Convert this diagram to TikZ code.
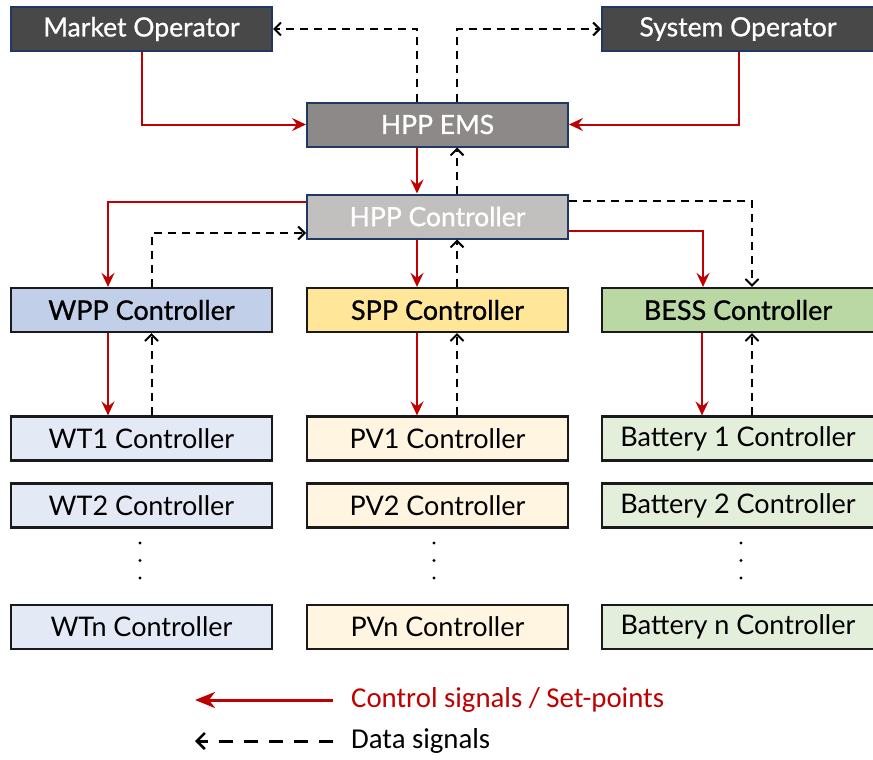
\documentclass[tikz,border=0pt]{standalone}
\usepackage{fontspec}
\setmainfont{Lato}
\newfontfamily\medfont[FakeBold=0.9]{Lato}
\newfontfamily\legendfont{Carlito}
\usetikzlibrary{arrows.meta}

\definecolor{opfill}{RGB}{72,72,72}
\definecolor{emsfill}{RGB}{141,137,136}
\definecolor{hppfill}{RGB}{194,192,191}
\definecolor{navyline}{RGB}{31,56,100}
\definecolor{wppfill}{RGB}{193,207,233}
\definecolor{sppfill}{RGB}{255,230,153}
\definecolor{bessfill}{RGB}{185,216,163}
\definecolor{wtfill}{RGB}{227,234,246}
\definecolor{pvfill}{RGB}{255,245,224}
\definecolor{batfill}{RGB}{227,239,219}
\definecolor{ctrlred}{RGB}{192,0,0}
\definecolor{boxline}{RGB}{26,26,26}

\tikzset{
  topbox/.style={draw=navyline, line width=2pt, minimum width=261pt, minimum height=44pt,
    inner sep=0pt, text=white, font=\medfont\fontsize{26.5}{28}\selectfont},
  plantbox/.style={draw=boxline, line width=2.2pt, minimum width=261pt, minimum height=44pt,
    inner sep=0pt, text=black, font=\medfont\fontsize{27}{29}\selectfont},
  unitbox/.style={plantbox, font=\fontsize{27}{29}\selectfont},
  wide/.style={minimum width=272pt},
  ctrl/.style={draw=ctrlred, line width=2pt,
    -{Stealth[length=14pt, width=13pt, inset=5pt]}},
  data/.style={draw=black, line width=2pt, dash pattern=on 8pt off 6pt,
    -{Straight Barb[length=6.5pt, width=13pt, line width=2pt]}},
  vdot/.style={circle, fill=black, inner sep=0pt, minimum size=3.4pt},
}

\begin{document}
\begin{tikzpicture}[x=1pt, y=-1pt]
\useasboundingbox (0,0) rectangle (873,760);

% operators and plant-level boxes
\node[topbox, fill=opfill] (mo) at (141.5,29) {Market Operator};
\node[topbox, fill=opfill, wide] (so) at (738,29) {System Operator};
\node[topbox, fill=emsfill] (ems) at (437.5,124.5) {HPP EMS};
\node[topbox, fill=hppfill] (hppc) at (437.5,216.5) {HPP Controller};

% sub-plant controllers
\node[plantbox, fill=wppfill] (wpp) at (141.5,310) {WPP Controller};
\node[plantbox, fill=sppfill] (spp) at (437.5,310) {SPP Controller};
\node[plantbox, fill=bessfill, wide] (bess) at (738,310) {BESS Controller};

% unit controllers
\node[unitbox, fill=wtfill] (wt1) at (141.5,438.5) {WT1 Controller};
\node[unitbox, fill=wtfill] (wt2) at (141.5,505.5) {WT2 Controller};
\node[unitbox, fill=wtfill] (wtn) at (141.5,627) {WTn Controller};
\node[unitbox, fill=pvfill] (pv1) at (437.5,438.5) {PV1 Controller};
\node[unitbox, fill=pvfill] (pv2) at (437.5,505.5) {PV2 Controller};
\node[unitbox, fill=pvfill] (pvn) at (437.5,627) {PVn Controller};
\node[unitbox, fill=batfill, wide] (bat1) at (738,438.5) {Battery 1 Controller};
\node[unitbox, fill=batfill, wide] (bat2) at (738,505.5) {Battery 2 Controller};
\node[unitbox, fill=batfill, wide] (batn) at (738,627) {Battery n Controller};

% vertical ellipses between unit rows
\foreach \cx/\col in {140/w, 434/p, 741/b}{
  \node[vdot] (\col d1) at (\cx,543) {};
  \node[vdot] (\col d2) at (\cx,560.5) {};
  \node[vdot] (\col d3) at (\cx,578) {};
}

% operators <-> EMS
\draw[ctrl] (mo.south) |- (ems.west);
\draw[ctrl] ([xshift=1pt]so.south) |- (ems.east);
\draw[data] ([xshift=-20.5pt]ems.north) |- (mo.east);
\draw[data] ([xshift=19.5pt]ems.north) |- (so.west);

% EMS <-> HPP controller
\draw[ctrl] ([xshift=-20.5pt]ems.south) -- ([xshift=-20.5pt]hppc.north);
\draw[data] ([xshift=19.5pt]hppc.north) -- ([xshift=19.5pt]ems.south);

% HPP controller <-> plant controllers
\draw[ctrl] ([yshift=14.5pt]hppc.west) -| ([xshift=-33.5pt]wpp.north);
\draw[data] ([xshift=10.5pt]wpp.north) |- ([yshift=-16.5pt]hppc.west);
\draw[ctrl] ([xshift=-20.5pt]hppc.south) -- ([xshift=-20.5pt]spp.north);
\draw[data] ([xshift=19.5pt]spp.north) -- ([xshift=19.5pt]hppc.south);
\draw[ctrl] ([yshift=-14.5pt]hppc.east) -| ([xshift=-35pt]bess.north);
\draw[data] ([yshift=15.5pt]hppc.east) -| ([xshift=14pt]bess.north);

% plant controllers <-> first unit controllers
\draw[ctrl] ([xshift=-33.5pt]wpp.south) -- ([xshift=-33.5pt]wt1.north);
\draw[data] ([xshift=10pt]wt1.north) -- ([xshift=10pt]wpp.south);
\draw[ctrl] ([xshift=-20.5pt]spp.south) -- ([xshift=-20.5pt]pv1.north);
\draw[data] ([xshift=19.5pt]pv1.north) -- ([xshift=19.5pt]spp.south);
\draw[ctrl] ([xshift=-36pt]bess.south) -- ([xshift=-36pt]bat1.north);
\draw[data] ([xshift=14pt]bat1.north) -- ([xshift=14pt]bess.south);

% legend
\coordinate (lgca) at (333,700);
\coordinate (lgcb) at (195,700);
\coordinate (lgda) at (333,741);
\coordinate (lgdb) at (195,741);
\draw[draw=ctrlred, line width=3pt, -{Stealth[length=20pt, width=16pt, inset=6pt]}] (lgca) -- (lgcb);
\draw[draw=black, line width=3pt, dash pattern=on 14pt off 11pt,
  -{Straight Barb[length=8pt, width=16pt, line width=2.6pt]}] (lgda) -- (lgdb);
\node[anchor=west, inner sep=0pt, text=ctrlred, font=\legendfont\fontsize{28.8}{30}\selectfont] (lgct) at (351,700) {Control signals / Set-points};
\node[anchor=west, inner sep=0pt, text=black, font=\legendfont\fontsize{28.8}{30}\selectfont] (lgdt) at (351,741) {Data signals};
\end{tikzpicture}
\end{document}
